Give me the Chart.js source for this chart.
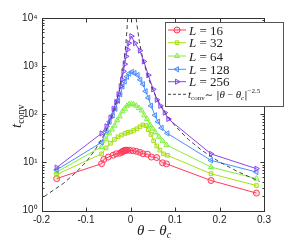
<!DOCTYPE html>
<html><head><meta charset="utf-8">
<script src="https://cdn.jsdelivr.net/npm/chart.js@4"></script>
<style>html,body{margin:0;padding:0;background:#fff}#wrap{width:291px;height:244px;position:relative}</style>
</head><body><div id="wrap"><canvas id="c" width="291" height="244"></canvas></div>
<script>
// ---- data ----
const xTickValues = [-0.2, -0.1, 0, 0.1, 0.2, 0.3];
const yTickValues = [1, 10, 100, 1000, 10000];
const seriesLabels = ['16', '32', '64', '128', '256'];

const x16 = [-0.166,-0.065,-0.06,-0.05,-0.039,-0.032,-0.024,-0.020,-0.018,-0.016,-0.014,-0.012,-0.010,-0.008,-0.002,0.006,0.013,0.021,0.028,0.038,0.047,0.059,0.072,0.081,0.181,0.283];
const y16 = [4.6,9.4,11.5,12.9,14.1,15.1,15.5,16.2,16.8,17.2,17.5,17.8,17.9,17.9,17.8,17.4,17.0,16.2,15.1,14.8,12.9,12.6,9.8,9.3,4.2,2.3];

const x32 = [-0.166,-0.065,-0.055,-0.045,-0.036,-0.028,-0.020,-0.012,-0.006,0.0,0.007,0.014,0.021,0.028,0.035,0.040,0.046,0.052,0.059,0.066,0.074,0.083,0.181,0.283];
const y32 = [5.6,15,20,25,30,34,37,40,42,43,46,50,55,60,58,48,38,28,22,18,15,14,5.8,3.3];

const x64 = [-0.166,-0.065,-0.055,-0.048,-0.042,-0.036,-0.030,-0.024,-0.018,-0.013,-0.008,-0.003,0.002,0.007,0.013,0.019,0.025,0.031,0.037,0.044,0.050,0.056,0.064,0.072,0.081,0.181,0.283];
const y64 = [6.3,21,30,40,48,58,75,90,115,130,150,160,165,160,150,135,120,95,80,60,50,42,34,28,23,8,4.6];

const x128 = [-0.166,-0.065,-0.054,-0.047,-0.040,-0.034,-0.028,-0.023,-0.018,-0.013,-0.008,-0.003,0.003,0.009,0.016,0.022,0.028,0.034,0.040,0.046,0.055,0.062,0.070,0.083,0.181,0.283];
const y128 = [7,26,45,70,95,130,190,260,380,480,600,700,760,720,650,520,420,300,220,150,95,70,52,40,11,6.3];

const x256 = [-0.166,-0.065,-0.054,-0.045,-0.038,-0.032,-0.027,-0.022,-0.019,-0.016,-0.013,-0.010,-0.007,-0.004,0.002,0.010,0.021,0.030,0.040,0.051,0.059,0.067,0.077,0.085,0.181,0.283];
const y256 = [7.8,40,56,85,130,180,260,380,520,780,1100,1600,2200,3000,4200,3000,2100,1250,650,330,200,150,108,80,15,7.4];

const fitLeftX = [-0.194,-0.15,-0.12,-0.1,-0.08,-0.06,-0.05,-0.04,-0.03,-0.025,-0.02,-0.015,-0.012,-0.01,-0.008,-0.0064];
const fitLeftY = [1.95,3.7,6.5,10.2,17.9,36.7,57.7,101,208,327,575,1180,2050,3240,5650,9900];
const fitRightX = [0.0128,0.015,0.02,0.025,0.03,0.04,0.05,0.06,0.08,0.1,0.13,0.16,0.2,0.24,0.29];
const fitRightY = [9800,6600,3240,1840,1180,570,324,206,100,57.5,30,17.8,10.2,6.5,4.0];

// ---- styling ----
const colors = ['#ff3a5a', '#a6e010', '#80f040', '#4a8cff', '#8a44f6'];
const fills  = ['rgba(255,58,90,0.15)', 'rgba(166,224,16,0.15)', 'rgba(128,240,64,0.15)', 'rgba(74,140,255,0.15)', 'rgba(138,68,246,0.15)'];
const shapes = ['circle', 'rect', 'triangle', 'triangle', 'triangle'];
const rots   = [0, 0, 0, -90, 90];
const xs = [x16, x32, x64, x128, x256];
const ys = [y16, y32, y64, y128, y256];

const pts = (a, b) => a.map((v, i) => ({x: v, y: b[i]}));

const datasets = xs.map((xa, i) => ({
  label: 'L = ' + seriesLabels[i],
  data: pts(xa, ys[i]),
  borderColor: colors[i],
  backgroundColor: fills[i],
  borderWidth: 1,
  pointStyle: shapes[i],
  rotation: rots[i],
  pointRadius: i === 1 ? 2.6 : 3,
  pointBorderWidth: 1,
  pointBackgroundColor: fills[i],
  pointBorderColor: colors[i],
  showLine: true,
  tension: 0,
  order: 6 - i
}));
[ [fitLeftX, fitLeftY], [fitRightX, fitRightY] ].forEach(([a, b]) => {
  datasets.push({
    label: 'fit', data: pts(a, b), borderColor: '#444', borderWidth: 1,
    borderDash: [4, 3], pointRadius: 0, showLine: true, tension: 0, order: 0
  });
});

const SUP = {'0':'⁰','1':'¹','2':'²','3':'³','4':'⁴'};

function drawSegs(ctx, x, y, segs) {
  let cx = x;
  segs.forEach(s => {
    ctx.font = s.f;
    ctx.fillText(s.t, cx, y + (s.dy || 0));
    cx += ctx.measureText(s.t).width + (s.sp || 0);
  });
}

const framePlugin = {
  id: 'frame',
  afterDraw(chart) {
    const ctx = chart.ctx, a = chart.chartArea;
    const sx = chart.scales.x, sy = chart.scales.y;
    ctx.save();
    ctx.strokeStyle = '#333';
    ctx.lineWidth = 1;
    const L = Math.round(a.left) + 0.5, R = Math.round(a.right) + 0.5;
    const T = Math.round(a.top) + 0.5, B = Math.round(a.bottom) + 0.5;
    ctx.strokeRect(L, T, R - L, B - T);
    ctx.beginPath();
    xTickValues.forEach(v => {
      const p = Math.round(sx.getPixelForValue(v)) + 0.5;
      ctx.moveTo(p, B); ctx.lineTo(p, B - 4);
      ctx.moveTo(p, T); ctx.lineTo(p, T + 4);
    });
    for (let d = 0; d < 4; d++) {
      for (let m = 1; m <= 9; m++) {
        const v = Math.pow(10, d) * m;
        const p = Math.round(sy.getPixelForValue(v)) + 0.5;
        const len = m === 1 ? 4 : 2;
        ctx.moveTo(L, p); ctx.lineTo(L + len, p);
        ctx.moveTo(R, p); ctx.lineTo(R - len, p);
      }
    }
    ctx.stroke();

    // axis titles
    ctx.fillStyle = '#222';
    ctx.textBaseline = 'alphabetic';
    ctx.textAlign = 'left';
    drawSegs(ctx, 137, 235, [
      {t: 'θ', f: 'italic 15px "Liberation Serif"'},
      {t: ' − ', f: '14px "Liberation Serif"'},
      {t: 'θ', f: 'italic 15px "Liberation Serif"'},
      {t: 'c', f: 'italic 10px "Liberation Serif"', dy: 3}
    ]);
    ctx.save();
    ctx.translate(21, 128);
    ctx.rotate(-Math.PI / 2);
    drawSegs(ctx, 0, 0, [
      {t: 't', f: 'italic 15px "Liberation Serif"'},
      {t: 'conv', f: '10px "Liberation Serif"', dy: 3}
    ]);
    ctx.restore();

    // legend
    const bx = 165.5, by = 22.5, bw = 118, bh = 84;
    ctx.fillStyle = '#fff';
    ctx.fillRect(bx, by, bw, bh);
    ctx.strokeStyle = '#555';
    ctx.strokeRect(bx, by, bw, bh);
    const rows = [30, 42.7, 56, 69.3, 81.7, 94.3];
    for (let i = 0; i < 5; i++) {
      const yy = rows[i];
      ctx.strokeStyle = colors[i];
      ctx.lineWidth = 1;
      ctx.beginPath(); ctx.moveTo(168, yy); ctx.lineTo(186, yy); ctx.stroke();
      ctx.fillStyle = fills[i];
      Chart.helpers.drawPoint(ctx, {pointStyle: shapes[i], rotation: rots[i], radius: i === 1 ? 2.6 : 3, borderWidth: 1}, 177, yy);
      ctx.fillStyle = '#222';
      drawSegs(ctx, 189, yy + 4.5, [
        {t: 'L', f: 'italic 13px "Liberation Serif"'},
        {t: ' = ' + seriesLabels[i], f: '13px "Liberation Serif"'}
      ]);
    }
    ctx.strokeStyle = '#444';
    ctx.setLineDash([3, 2]);
    ctx.beginPath(); ctx.moveTo(168, rows[5]); ctx.lineTo(186, rows[5]); ctx.stroke();
    ctx.setLineDash([]);
    ctx.fillStyle = '#222';
    drawSegs(ctx, 188, rows[5] + 3.5, [
      {t: 't', f: 'italic 11px "Liberation Serif"'},
      {t: 'conv', f: '7px "Liberation Serif"', dy: 2},
      {t: '∼ |', f: '10px "DejaVu Serif"'},
      {t: 'θ', f: 'italic 11px "Liberation Serif"'},
      {t: ' − ', f: '10px "Liberation Serif"'},
      {t: 'θ', f: 'italic 11px "Liberation Serif"'},
      {t: 'c', f: 'italic 7px "Liberation Serif"', dy: 2},
      {t: '|', f: '10px "DejaVu Serif"'},
      {t: '−2.5', f: '7px "Liberation Serif"', dy: -5}
    ]);
    ctx.restore();
  }
};

new Chart(document.getElementById('c'), {
  type: 'line',
  data: { datasets },
  options: {
    responsive: false,
    animation: false,
    devicePixelRatio: 1,
    layout: { padding: { top: 18, right: 27, left: 0, bottom: 0 } },
    plugins: { legend: { display: false }, tooltip: { enabled: false } },
    scales: {
      x: {
        type: 'linear', min: -0.2, max: 0.3,
        afterBuildTicks: s => { s.ticks = xTickValues.map(v => ({value: v})); },
        afterFit: s => { s.height = 33.5; },
        grid: { display: false, drawTicks: false },
        border: { display: false },
        ticks: {
          padding: 4, color: '#222', maxRotation: 0,
          font: { family: 'Liberation Sans', size: 10 },
          callback: v => (Math.abs(v) < 1e-9 ? '0' : String(Math.round(v * 10) / 10))
        }
      },
      y: {
        type: 'logarithmic', min: 1, max: 10000,
        afterBuildTicks: s => { s.ticks = yTickValues.map(v => ({value: v})); },
        afterFit: s => { s.width = 41.5; },
        grid: { display: false, drawTicks: false },
        border: { display: false },
        ticks: {
          padding: 4, color: '#222',
          font: { family: 'Liberation Sans', size: 10 },
          callback: v => '10' + SUP[String(Math.round(Math.log10(v)))]
        }
      }
    }
  },
  plugins: [framePlugin]
});
</script>
</body></html>
